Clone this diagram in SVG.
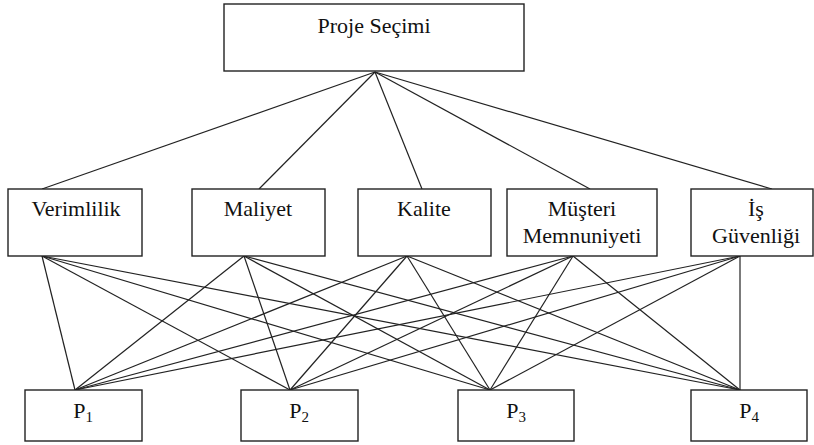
<svg xmlns="http://www.w3.org/2000/svg" width="814" height="445" viewBox="0 0 814 445">
<style>
.box{fill:#fff;stroke:#222;stroke-width:1.4}
.t{font-family:'Liberation Serif','DejaVu Serif',serif;font-size:22px;fill:#111;text-anchor:middle}
.sub{font-size:15px}
#connectors line{stroke:#222;stroke-width:1.2}
</style>
<rect width="814" height="445" fill="#fff"/>
<g id="connectors">
<line x1="375" y1="72" x2="42" y2="189"/>
<line x1="375" y1="72" x2="259" y2="189"/>
<line x1="375" y1="72" x2="422" y2="189"/>
<line x1="375" y1="72" x2="590" y2="189"/>
<line x1="375" y1="72" x2="772" y2="189"/>
<line x1="42" y1="256" x2="75" y2="390"/>
<line x1="42" y1="256" x2="290" y2="390"/>
<line x1="42" y1="256" x2="490" y2="390"/>
<line x1="42" y1="256" x2="740" y2="390"/>
<line x1="244" y1="256" x2="75" y2="390"/>
<line x1="244" y1="256" x2="290" y2="390"/>
<line x1="244" y1="256" x2="490" y2="390"/>
<line x1="244" y1="256" x2="740" y2="390"/>
<line x1="407" y1="256" x2="75" y2="390"/>
<line x1="407" y1="256" x2="290" y2="390"/>
<line x1="407" y1="256" x2="490" y2="390"/>
<line x1="407" y1="256" x2="740" y2="390"/>
<line x1="573" y1="256" x2="75" y2="390"/>
<line x1="573" y1="256" x2="290" y2="390"/>
<line x1="573" y1="256" x2="490" y2="390"/>
<line x1="573" y1="256" x2="740" y2="390"/>
<line x1="740" y1="256" x2="75" y2="390"/>
<line x1="740" y1="256" x2="290" y2="390"/>
<line x1="740" y1="256" x2="490" y2="390"/>
<line x1="740" y1="256" x2="740" y2="390"/>
</g>
<g id="proje-secimi">
<rect class="box" x="224" y="4" width="300" height="67"/>
<text class="t" x="374" y="33">Proje Seçimi</text>
</g>
<g id="verimlilik">
<rect class="box" x="8" y="189" width="134" height="67"/>
<text class="t" x="76" y="216">Verimlilik</text>
</g>
<g id="maliyet">
<rect class="box" x="192" y="189" width="133" height="67"/>
<text class="t" x="258" y="216">Maliyet</text>
</g>
<g id="kalite">
<rect class="box" x="358" y="189" width="133" height="67"/>
<text class="t" x="424" y="216">Kalite</text>
</g>
<g id="musteri-memnuniyeti">
<rect class="box" x="507" y="189" width="150" height="67"/>
<text class="t" x="582" y="216">Müşteri</text>
<text class="t" x="582" y="243">Memnuniyeti</text>
</g>
<g id="is-guvenligi">
<rect class="box" x="691" y="189" width="122" height="67"/>
<text class="t" x="756" y="216">İş</text>
<text class="t" x="756" y="243">Güvenliği</text>
</g>
<g id="p1">
<rect class="box" x="25" y="390" width="117" height="51"/>
<text class="t" x="83" y="418">P<tspan class="sub" dy="4">1</tspan></text>
</g>
<g id="p2">
<rect class="box" x="241" y="390" width="117" height="51"/>
<text class="t" x="299" y="418">P<tspan class="sub" dy="4">2</tspan></text>
</g>
<g id="p3">
<rect class="box" x="458" y="390" width="116" height="51"/>
<text class="t" x="516" y="418">P<tspan class="sub" dy="4">3</tspan></text>
</g>
<g id="p4">
<rect class="box" x="691" y="390" width="116" height="51"/>
<text class="t" x="749" y="418">P<tspan class="sub" dy="4">4</tspan></text>
</g>
</svg>
